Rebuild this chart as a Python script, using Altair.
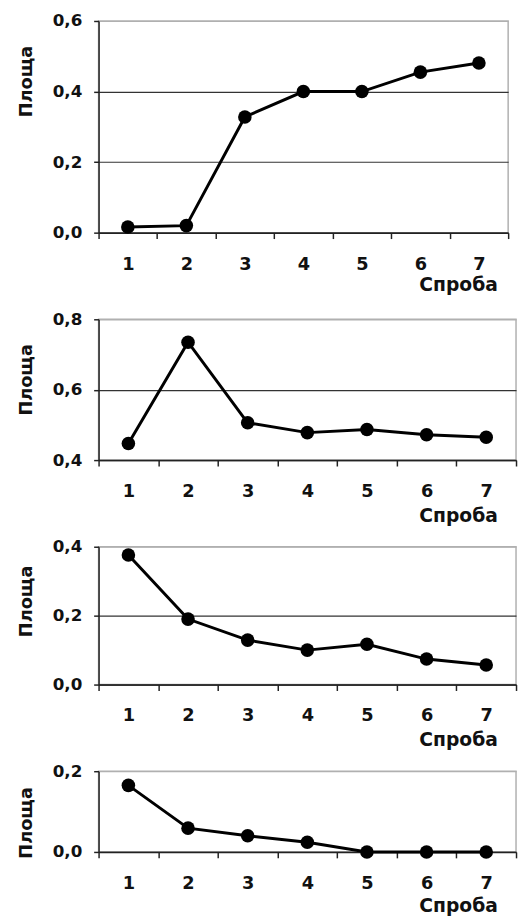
import altair as alt
import pandas as pd

trials = [1, 2, 3, 4, 5, 6, 7]
area1 = [0.016, 0.020, 0.328, 0.400, 0.400, 0.455, 0.481]
area2 = [0.447, 0.735, 0.506, 0.478, 0.487, 0.472, 0.465]
area3 = [0.376, 0.190, 0.129, 0.100, 0.117, 0.074, 0.057]
area4 = [0.165, 0.059, 0.040, 0.024, 0.000, 0.000, 0.000]

y_domains = [[0.0, 0.6], [0.4, 0.8], [0.0, 0.4], [0.0, 0.2]]
y_ticks = [[0.0, 0.2, 0.4, 0.6], [0.4, 0.6, 0.8], [0.0, 0.2, 0.4], [0.0, 0.2]]

x_title = "Спроба"
y_title = "Площа"

FONT = "DejaVu Sans"
LABEL_EXPR = "replace(format(datum.value, '.1f'), '.', ',')"


def panel(vals, domain, ticks, width, height, ytitle_y, xtitle_y):
    df = pd.DataFrame({"trial": trials, "area": vals})
    x = alt.X(
        "trial:O",
        scale=alt.Scale(paddingInner=0, paddingOuter=0),
        axis=alt.Axis(
            title=x_title,
            labelAngle=0,
            tickBand="extent",
            grid=False,
            domainColor="#222222",
            domainWidth=1.5,
            tickColor="#222222",
            tickWidth=1.5,
            tickSize=6,
            labelPadding=17,
            labelFont=FONT,
            labelFontSize=18,
            labelFontWeight="bold",
            labelColor="#111111",
            titleFont=FONT,
            titleFontSize=19,
            titleFontWeight="bold",
            titleColor="#111111",
            titleAlign="right",
            titleAnchor="start",
            titleBaseline="alphabetic",
            titleX=405,
            titleY=xtitle_y,
        ),
    )
    y = alt.Y(
        "area:Q",
        scale=alt.Scale(domain=domain, nice=False, zero=False),
        axis=alt.Axis(
            title=y_title,
            values=ticks,
            labelExpr=LABEL_EXPR,
            grid=True,
            gridColor={"condition": {"test": "datum.index == 1", "value": "#b0b0b0"}, "value": "#333333"},
            gridWidth=1.2,
            domainColor="#222222",
            domainWidth=1.5,
            tickColor="#222222",
            tickWidth=1.5,
            tickSize=5,
            labelPadding=12,
            labelFont=FONT,
            labelFontSize=17,
            labelFontWeight="bold",
            labelColor="#111111",
            titleFont=FONT,
            titleFontSize=18,
            titleFontWeight="bold",
            titleColor="#111111",
            titleAngle=270,
            titleAlign="center",
            titleBaseline="middle",
            titleX=-73,
            titleY=ytitle_y,
        ),
    )
    base = alt.Chart(df).encode(x=x, y=y)
    line = base.mark_line(color="black", strokeWidth=3)
    pts = base.mark_circle(size=190, color="black", opacity=1)
    return alt.layer(line, pts).properties(width=width, height=height)


p1 = panel(area1, y_domains[0], y_ticks[0], 416, 215, 61, 59)
p2 = panel(area2, y_domains[1], y_ticks[1], 424, 143, 61, 62)
p3 = panel(area3, y_domains[2], y_ticks[2], 424, 140, 55, 62)
p4 = panel(area4, y_domains[3], y_ticks[3], 424, 82, 52, 61)

chart = (
    alt.vconcat(p1, p2, p3, p4, spacing=88, bounds="flush")
    .properties(padding={"left": 9, "top": -4, "right": 0, "bottom": 0})
    .configure_view(stroke="#b0b0b0", strokeWidth=1.5)
)

chart.save("out.html", embed_options={"renderer": "svg", "actions": False})
